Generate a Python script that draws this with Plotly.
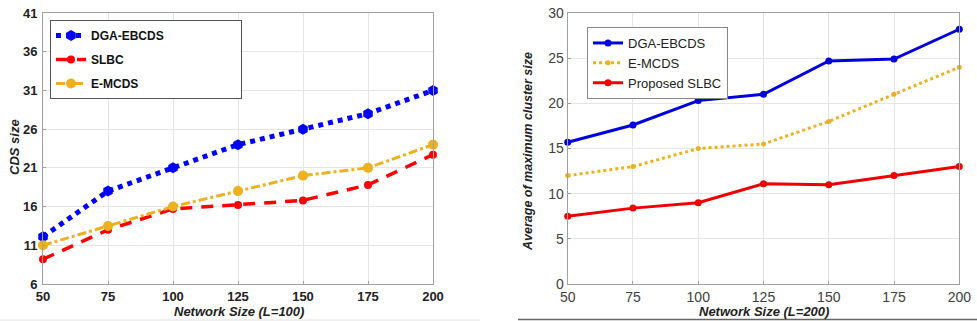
import plotly.graph_objects as go

network_size = [50, 75, 100, 125, 150, 175, 200]

# Left chart (L=100): CDS size
left_dga = [12.1, 18.0, 21.0, 24.0, 26.0, 28.0, 31.0]
left_slbc = [9.2, 13.0, 15.7, 16.2, 16.8, 18.8, 22.7]
left_emcds = [11.0, 13.5, 16.0, 18.0, 20.0, 21.0, 24.0]

# Right chart (L=200): average of maximum cluster size
right_dga = [15.7, 17.6, 20.3, 21.0, 24.7, 24.9, 28.2]
right_emcds = [12.0, 13.0, 15.0, 15.5, 18.0, 21.0, 24.0]
right_slbc = [7.5, 8.4, 9.0, 11.1, 11.0, 12.0, 13.0]

W, H = 977, 321
BLUE = "#0000FF"
RED = "#FF0000"
ORANGE = "#EDB120"
PAD = "\u2003" * 6

fig = go.Figure()

fig.add_trace(go.Scatter(x=network_size, y=left_dga, name="DGA-EBCDS" + PAD, mode="lines+markers",
                         line=dict(color=BLUE, width=5, dash="dot"),
                         marker=dict(symbol="hexagon", size=11, color=BLUE),
                         cliponaxis=False, xaxis="x", yaxis="y", legend="legend", legendgroup="a"))
fig.add_trace(go.Scatter(x=network_size, y=left_slbc, name="SLBC", mode="lines+markers",
                         line=dict(color=RED, width=3.5, dash="12px,9px"),
                         marker=dict(symbol="circle", size=8, color=RED),
                         cliponaxis=False, xaxis="x", yaxis="y", legend="legend", legendgroup="b"))
fig.add_trace(go.Scatter(x=network_size, y=left_emcds, name="E-MCDS", mode="lines+markers",
                         line=dict(color=ORANGE, width=3, dash="dashdot"),
                         marker=dict(symbol="circle", size=10, color=ORANGE),
                         cliponaxis=False, xaxis="x", yaxis="y", legend="legend", legendgroup="c"))

fig.add_trace(go.Scatter(x=network_size, y=right_dga, name="DGA-EBCDS", mode="lines+markers",
                         line=dict(color="#0000DD", width=3),
                         marker=dict(symbol="circle", size=7, color="#0000DD"),
                         cliponaxis=False, xaxis="x2", yaxis="y2", legend="legend2"))
fig.add_trace(go.Scatter(x=network_size, y=right_emcds, name="E-MCDS", mode="lines+markers",
                         line=dict(color=ORANGE, width=3, dash="dot"),
                         marker=dict(symbol="circle", size=5, color=ORANGE),
                         cliponaxis=False, xaxis="x2", yaxis="y2", legend="legend2"))
fig.add_trace(go.Scatter(x=network_size, y=right_slbc, name="Proposed SLBC", mode="lines+markers",
                         line=dict(color="#EE0000", width=3),
                         marker=dict(symbol="circle", size=7, color="#EE0000"),
                         cliponaxis=False, xaxis="x2", yaxis="y2", legend="legend2"))

ybot = 1 - 284 / H
ytop = 1 - 13 / H

axis_common = dict(showgrid=True, gridcolor="#E6E6E6", gridwidth=1, showline=True,
                   linecolor="#A0A0A0", linewidth=1, mirror=True, ticks="inside",
                   ticklen=3, tickcolor="#A0A0A0", zeroline=False, automargin=False)

title_font = dict(size=13, color="#222", family="Liberation Sans, Arial, sans-serif")

fig.update_layout(
    width=W, height=H,
    margin=dict(l=0, r=0, t=0, b=0),
    paper_bgcolor="white", plot_bgcolor="white",
    font=dict(family="Liberation Sans, Arial, sans-serif"),
    xaxis=dict(domain=[43 / W, 433 / W], range=[50, 200], tickvals=network_size,
               tickfont=dict(size=13, color="#222", weight="bold"),
               anchor="y", **axis_common),
    yaxis=dict(domain=[ybot, ytop], range=[6, 41], tick0=6, dtick=5,
               tickfont=dict(size=13, color="#222", weight="bold"),
               anchor="x", ticklabelstandoff=2, **axis_common),
    xaxis2=dict(domain=[567.7 / W, 959.3 / W], range=[50, 200], tickvals=network_size,
                tickfont=dict(size=14, color="#404040"),
                anchor="y2", **axis_common),
    yaxis2=dict(domain=[ybot, ytop], range=[0, 30], dtick=5,
                tickfont=dict(size=14, color="#404040"),
                anchor="x2", **axis_common),
    legend=dict(x=50 / W, y=1 - 20 / H, xanchor="left", yanchor="top",
                bgcolor="white", bordercolor="#555", borderwidth=1,
                font=dict(size=12, color="#111", weight="bold"), tracegroupgap=5,
                itemwidth=30),
    legend2=dict(x=587 / W, y=1 - 27 / H, xanchor="left", yanchor="top",
                 bgcolor="white", bordercolor="#888", borderwidth=1,
                 font=dict(size=13, color="#222"), tracegroupgap=0, itemwidth=30),
    annotations=[
        dict(text="<b><i>Network Size (L=100)</i></b>", xref="paper", yref="paper",
             x=239 / W, y=1 - 311.5 / H, showarrow=False, font=title_font,
             xanchor="center", yanchor="middle"),
        dict(text="<b><i>CDS size</i></b>", xref="paper", yref="paper",
             x=15 / W, y=1 - 147 / H, showarrow=False, font=title_font, textangle=-90,
             xanchor="center", yanchor="middle"),
        dict(text="<b><i>Network Size (L=200)</i></b>", xref="paper", yref="paper",
             x=764 / W, y=1 - 311 / H, showarrow=False, font=title_font,
             xanchor="center", yanchor="middle"),
        dict(text="<b><i>Average of maximum cluster size</i></b>", xref="paper", yref="paper",
             x=528 / W, y=1 - 152 / H, showarrow=False,
             font=dict(size=12.5, color="#222", family="Liberation Sans, Arial, sans-serif"),
             textangle=-90, xanchor="center", yanchor="middle"),
    ],
    shapes=[
        dict(type="line", xref="paper", yref="paper", x0=518 / W, x1=1, y0=1 - 319.5 / H, y1=1 - 319.5 / H,
             line=dict(color="#666", width=1.5)),
        dict(type="line", xref="paper", yref="paper", x0=0, x1=480 / W, y0=1 - 320 / H, y1=1 - 320 / H,
             line=dict(color="#E0E0E0", width=1)),
    ],
)

fig.write_html("out.html", config={"displayModeBar": False},
               post_script="document.body.style.margin='0';document.body.style.overflow='hidden';")
